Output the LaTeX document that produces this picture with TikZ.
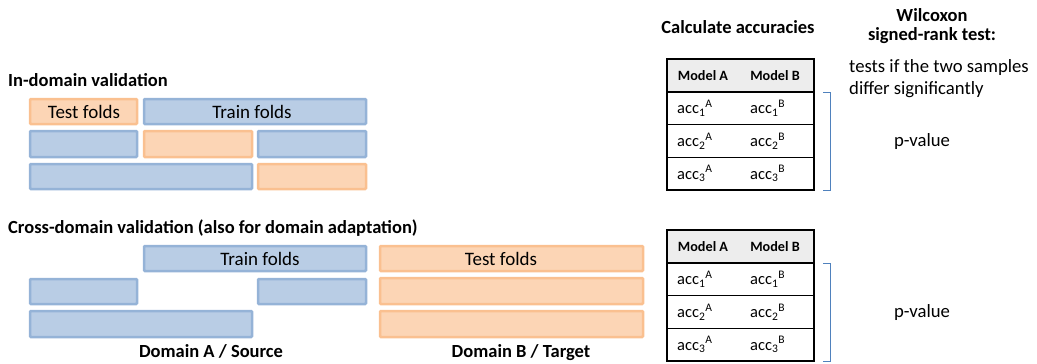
\documentclass[tikz,border=0pt]{standalone}
\usepackage{fontspec}
\setmainfont{Carlito}
\definecolor{bfill}{HTML}{B9CDE5}
\definecolor{bdraw}{HTML}{95B3D7}
\definecolor{ofill}{HTML}{FCD5B5}
\definecolor{odraw}{HTML}{FAC090}
\definecolor{hdr}{HTML}{EDEDED}
\definecolor{brk}{HTML}{4F81BD}
\begin{document}
\begin{tikzpicture}[x=1pt,y=-1pt,
  fold/.style={line width=2.5pt,rounded corners=1pt},
  bluef/.style={fold,draw=bdraw,fill=bfill},
  orf/.style={fold,draw=odraw,fill=ofill},
  head/.style={font=\fontsize{18.5}{22}\selectfont\bfseries,inner sep=0pt},
  lbl/.style={font=\fontsize{19}{22}\selectfont,inner sep=0pt},
  cell/.style={font=\fontsize{16.5}{19}\selectfont,inner sep=0pt},
  hcell/.style={font=\fontsize{14.2}{17}\selectfont\bfseries,inner sep=0pt},
  txt/.style={font=\fontsize{18.7}{22}\selectfont,inner sep=0pt},
  brack/.style={draw=brk,line width=1pt}
]
\useasboundingbox (0,0) rectangle (1037,364);
% In-domain
\node[head,anchor=west] (h1) at (8,80) {In-domain validation};
\draw[orf] (30,99) rectangle (137,124);
\node[lbl] (t1) at (84,111.5) {Test folds};
\draw[bluef] (144,99) rectangle (366,124);
\node[lbl] (tr1) at (252,111.5) {Train folds};
\draw[bluef] (30,131) rectangle (137,157);
\draw[orf] (144,131) rectangle (252,157);
\draw[bluef] (258,131) rectangle (366,157);
\draw[bluef] (30,164) rectangle (252,189);
\draw[orf] (258,164) rectangle (366,189);
% Cross-domain
\node[head,anchor=west] (h2) at (8,228) {Cross-domain validation (also for domain adaptation)};
\draw[bluef] (144,246) rectangle (366,271);
\node[lbl] (tr2) at (260,258.5) {Train folds};
\draw[bluef] (30,279) rectangle (137,304);
\draw[bluef] (258,279) rectangle (366,304);
\draw[bluef] (30,311) rectangle (252,337);
\draw[orf] (380,246) rectangle (643,271);
\node[lbl] (t2) at (501,258.5) {Test folds};
\draw[orf] (380,278) rectangle (643,304);
\draw[orf] (380,311) rectangle (643,337);
\node[head] (da) at (211,351) {Domain A / Source};
\node[head] (db) at (521,353) {Domain B / Target};
% Tables
\node[head] (ca) at (738,27) {Calculate accuracies};
\node[head] (w1) at (932,15) {Wilcoxon};
\node[head] (w2) at (932,36) {signed-rank test:};
\node[txt,anchor=west] (ts1) at (849,68) {tests if the two samples};
\node[txt,anchor=west] (ts2) at (849,90) {differ significantly};
\foreach \top/\nm in {59/a,230/b}{
  \pgfmathsetmacro{\hb}{\top+33}
  \fill[hdr] (667,\top) rectangle (814,\hb);
  \node[hcell] (ma\nm) at (703,\top+17) {Model A};
  \node[hcell] (mb\nm) at (775,\top+17) {Model B};
  \foreach \i in {1,2,3}{
    \pgfmathsetmacro{\yc}{\hb+(\i-0.5)*32.7}
    \node[cell,anchor=west] (a\nm\i) at (677,\yc) {acc\textsubscript{\i}\textsuperscript{A}};
    \node[cell,anchor=west] (b\nm\i) at (750,\yc) {acc\textsubscript{\i}\textsuperscript{B}};
  }
  \foreach \i in {1,2,3}{
    \draw[line width=1.2pt] (667,\hb+\i*32.7-32.7) -- (814,\hb+\i*32.7-32.7);
  }
  \draw[line width=1.6pt] (667,\top) rectangle (814,\hb+98);
  \draw[brack] (823,\hb) -- (830,\hb) -- (830,\hb+98) -- (823,\hb+98);
}
\node[txt] (p1) at (922,142) {p-value};
\node[txt] (p2) at (922,313) {p-value};
\end{tikzpicture}
\end{document}
